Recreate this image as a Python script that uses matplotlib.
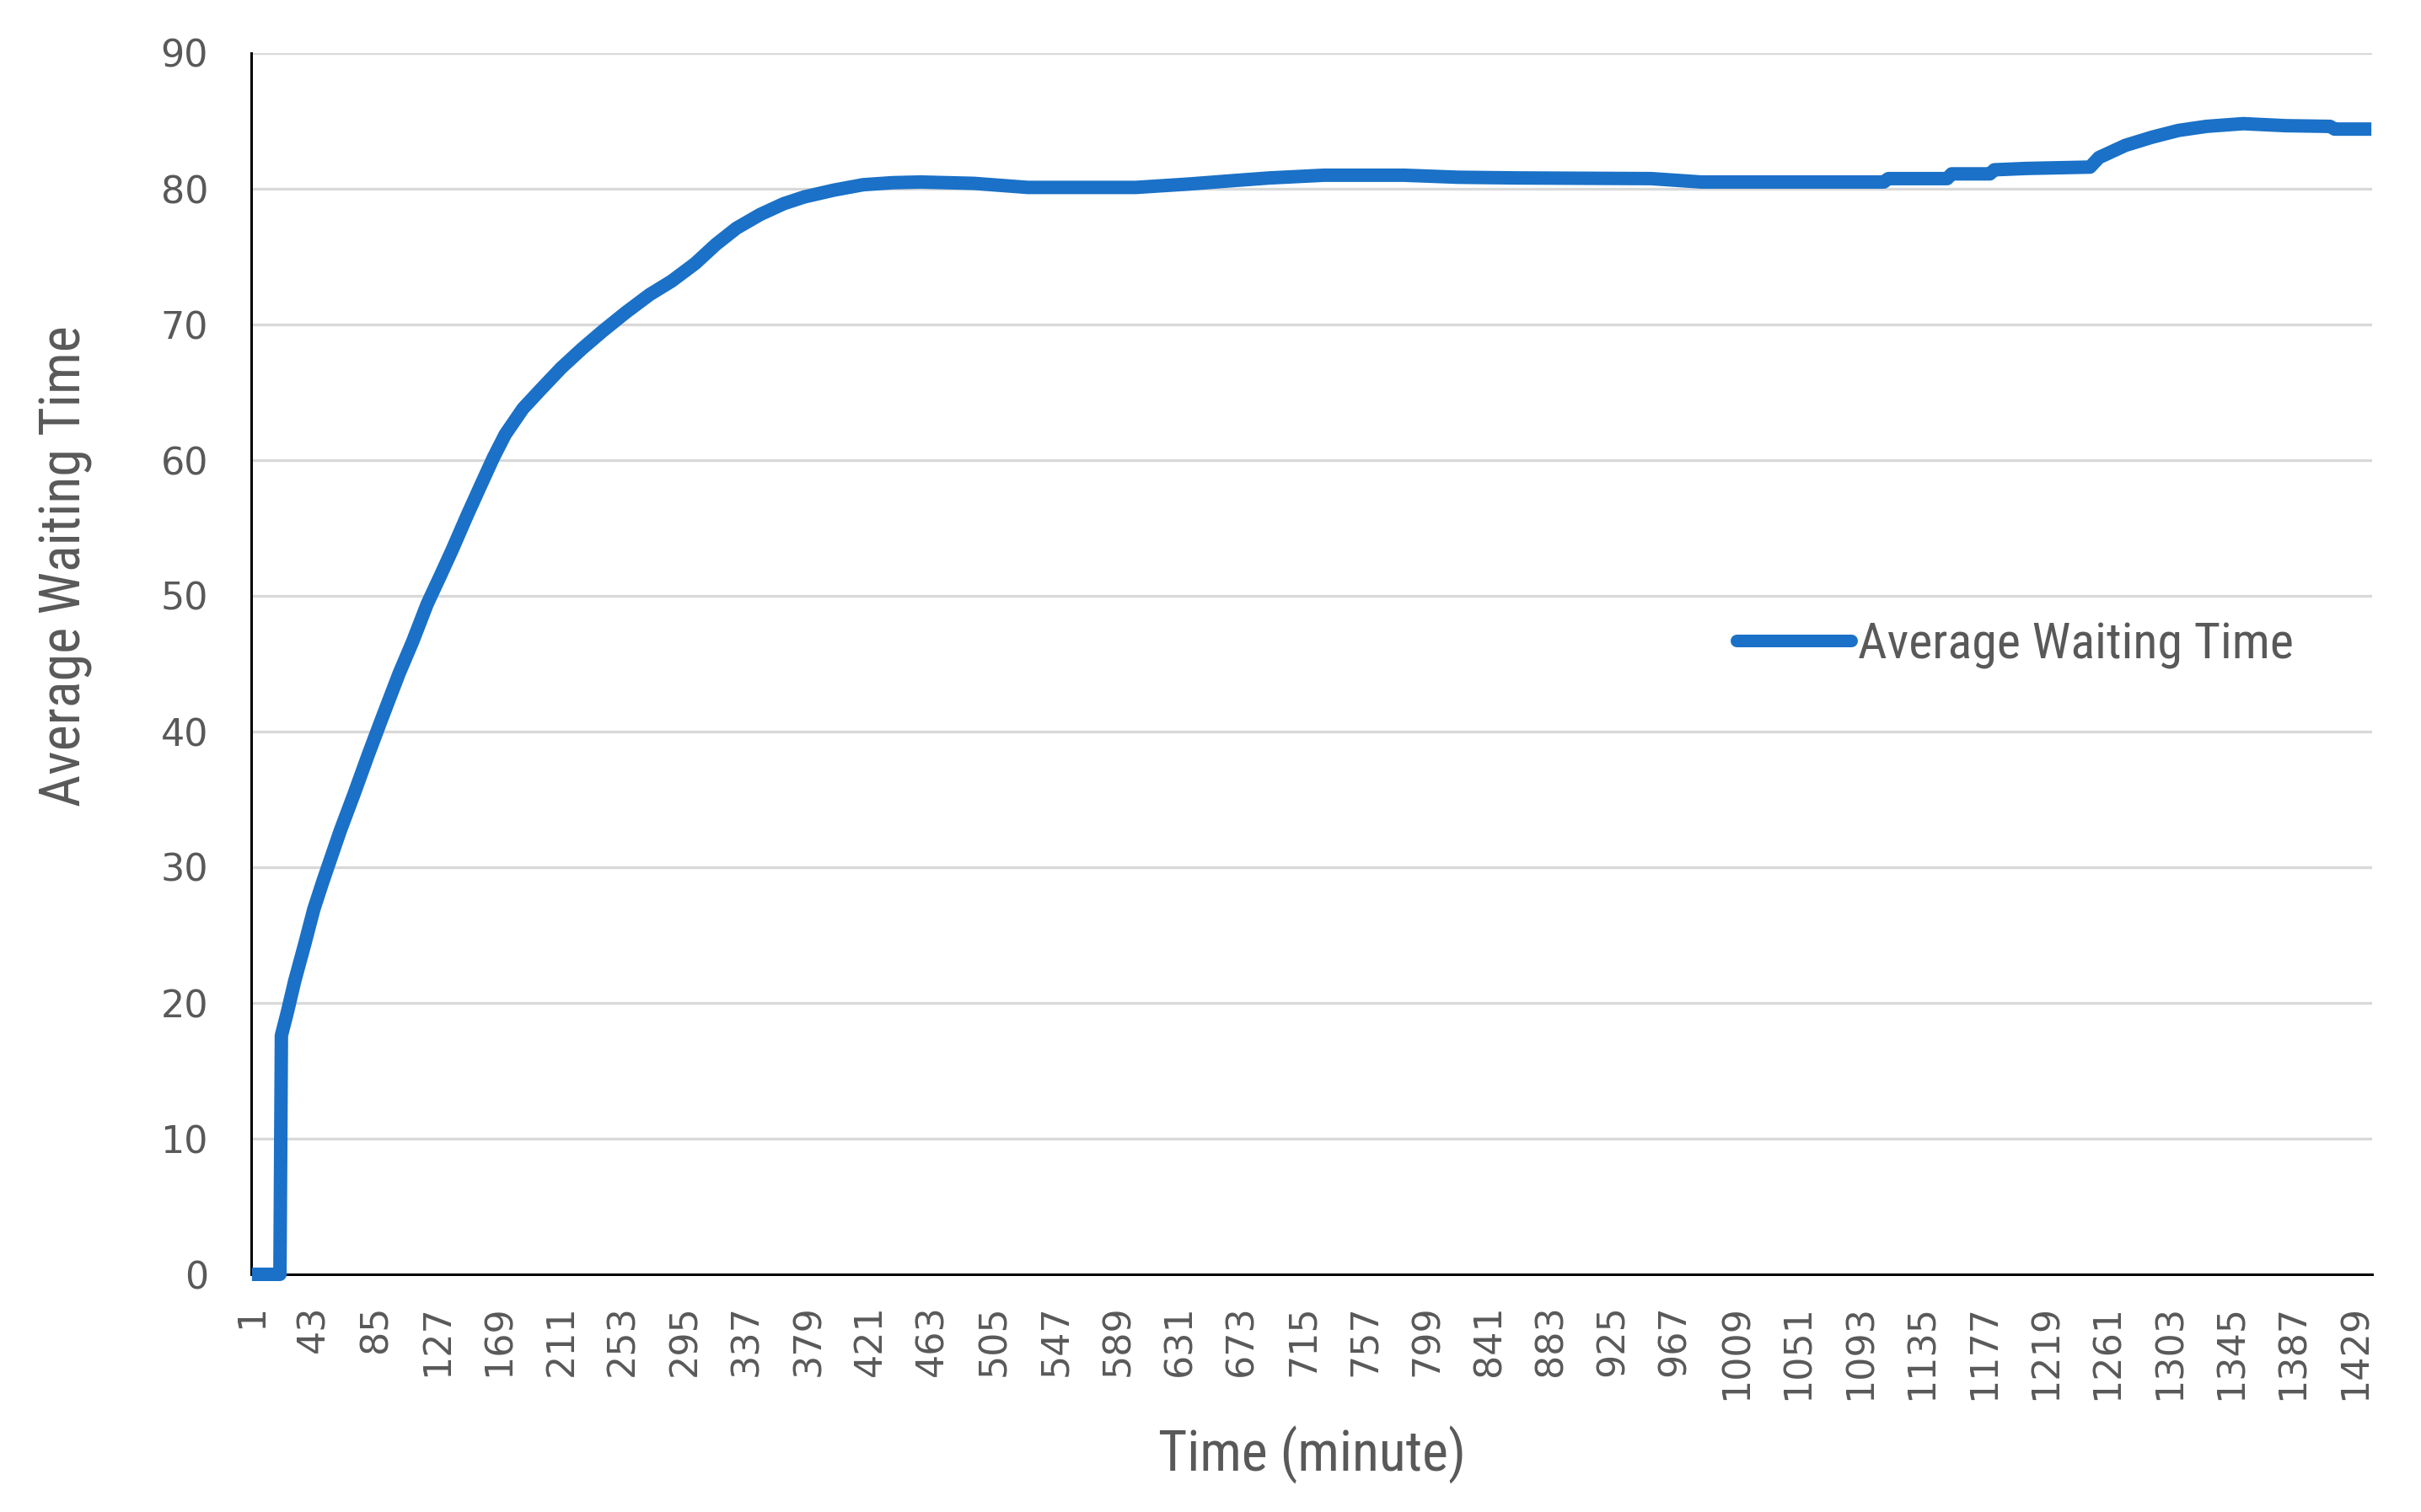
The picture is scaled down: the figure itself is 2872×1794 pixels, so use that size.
import matplotlib
matplotlib.use("Agg")
import matplotlib.pyplot as plt
from matplotlib import font_manager
import numpy as np

# ---------------- data ----------------
minute = [1, 20, 21, 25, 30, 37, 43, 49, 55, 61, 70, 80, 89, 101, 110, 120, 129,
          137, 147, 157, 165, 173, 185, 197, 211, 225, 239, 255, 271, 286, 302,
          316, 330, 346, 362, 376, 396, 416, 436, 455, 491, 528, 565, 601, 637,
          667, 692, 729, 783, 820, 860, 951, 985, 1109, 1112, 1152, 1155, 1181,
          1184, 1206, 1249, 1255, 1273, 1291, 1309, 1328, 1353, 1382, 1412,
          1415, 1440]
avg_wait = [0.0, 0.0, 17.6, 19.3, 21.6, 24.4, 26.9, 28.9, 30.8, 32.7, 35.3, 38.3,
            40.9, 44.3, 46.6, 49.4, 51.5, 53.4, 55.9, 58.3, 60.2, 61.9, 63.8,
            65.2, 66.8, 68.2, 69.5, 70.9, 72.2, 73.2, 74.5, 75.9, 77.1, 78.1,
            78.9, 79.4, 79.9, 80.3, 80.45, 80.5, 80.4, 80.1, 80.1, 80.1, 80.35,
            80.6, 80.8, 81.0, 81.0, 80.85, 80.8, 80.75, 80.5, 80.5, 80.75,
            80.75, 81.1, 81.1, 81.4, 81.5, 81.6, 82.3, 83.2, 83.8, 84.3, 84.6,
            84.8, 84.65, 84.6, 84.4, 84.4]
n_minutes = 1440
tick_minutes = list(range(1, 1430, 42))
tick_labels = [str(m) for m in tick_minutes]
series_name = "Average Waiting Time"
x_title = "Time (minute)"
y_title = "Average Waiting Time"
y_ticks = list(range(0, 91, 10))

# ---------------- style ----------------
W, H = 2872, 1794
DPI = 100
TXT = "#595959"
BLUE = "#1A71C7"
GRID = "#D9D9D9"
px = 72.0 / DPI  # points per pixel

names = {f.name for f in font_manager.fontManager.ttflist}
narrow = None
for cand in ["Liberation Sans Narrow", "Arial Narrow", "Roboto Condensed", "Open Sans Condensed"]:
    if cand in names:
        narrow = cand
        break
if narrow is None:
    narrow = "Roboto" if "Roboto" in names else "DejaVu Sans"

fig = plt.figure(figsize=(W / DPI, H / DPI), dpi=DPI)
L, R, T, B = 298, 2814, 63, 1512
ax = fig.add_axes([L / W, 1 - B / H, (R - L) / W, (B - T) / H])

x = np.array(minute) - 1
ax.plot(x, avg_wait, color=BLUE, lw=16 * px, zorder=4, clip_on=False,
        solid_capstyle="butt", label=series_name)

ax.set_xlim(-0.5, n_minutes - 0.5)
ax.set_ylim(0, 90)
ax.set_yticks(y_ticks)
ax.set_xticks(np.array(tick_minutes) - 1)
ax.set_xticklabels(tick_labels, rotation=90, ha="center", va="top")
ax.tick_params(axis="both", length=0, labelsize=32, labelcolor=TXT)
ax.tick_params(axis="y", pad=51 * px)
ax.tick_params(axis="x", pad=36 * px)
for lab in ax.get_xticklabels() + ax.get_yticklabels():
    lab.set_family("DejaVu Sans")

ax.grid(axis="y", color=GRID, lw=3.3 * px, zorder=0)
ax.set_axisbelow(True)
for s in ["top", "right"]:
    ax.spines[s].set_visible(False)
for s in ["left", "bottom"]:
    ax.spines[s].set_color("black")
    ax.spines[s].set_linewidth(3 * px)
    ax.spines[s].set_zorder(3)

fig.canvas.draw()
renderer = fig.canvas.get_renderer()


def fit_size(text, target_len, family, base=30):
    t = fig.text(0, 0, text, fontsize=base, family=family)
    w = t.get_window_extent(renderer).width
    t.remove()
    return base * target_len / w


ysize = fit_size(y_title, 571, narrow)
xsize = fit_size(x_title, 365, narrow)
lsize = fit_size(series_name, 517, narrow)

fig.text(78 / W, 1 - 672 / H, y_title, rotation=90, ha="center", va="center",
         fontsize=ysize, family=narrow, color=TXT)
fig.text(1557 / W, 1 - 1726 / H, x_title, ha="center", va="center",
         fontsize=xsize, family=narrow, color=TXT)

lfs_px = lsize / px
leg = ax.legend(loc="center left",
                bbox_to_anchor=(2060 / W, 1 - 765 / H),
                bbox_transform=fig.transFigure,
                frameon=False, borderpad=0, borderaxespad=0,
                handlelength=136 / lfs_px, handletextpad=8 / lfs_px,
                prop={"family": narrow, "size": lsize})
for t in leg.get_texts():
    t.set_color(TXT)
for h in leg.get_lines():
    h.set_linewidth(15 * px)
    h.set_solid_capstyle("round")

fig.savefig("out.png", dpi=DPI, facecolor="white")
